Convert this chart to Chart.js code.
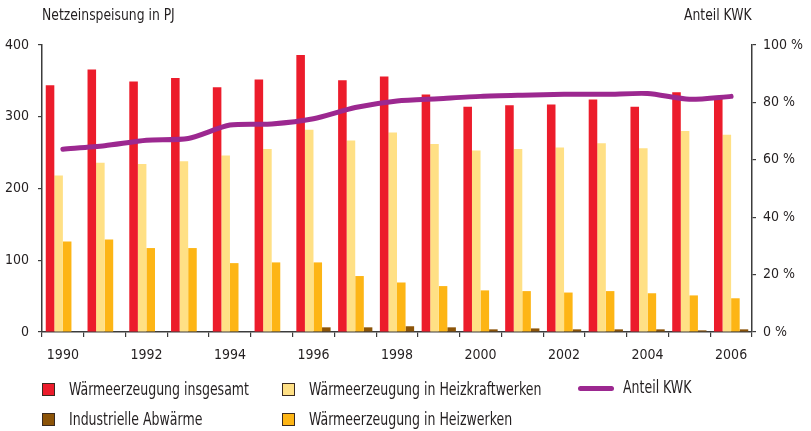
<!DOCTYPE html>
<html>
<head>
<meta charset="utf-8">
<script src="https://cdn.jsdelivr.net/npm/chart.js@4"></script>
<style>
  body { margin: 0; background: #fff; }
  #wrap { position: relative; width: 811px; height: 431px; font-family: "DejaVu Sans Condensed", "Liberation Sans Narrow", sans-serif; color: #231f20; }
  canvas { position: absolute; left: 0; top: 0; }
  .axtitle { position: absolute; top: 5px; font-size: 16px; transform: scaleX(0.86); white-space: nowrap; }
  .leg { position: absolute; font-size: 17px; line-height: 18px; white-space: nowrap; transform: scaleX(0.82); transform-origin: 0 0; }
  .sw { position: absolute; width: 11px; height: 11px; border: 1.5px solid #3a2a20; }
  .ln { position: absolute; width: 36px; height: 5px; border-radius: 3px; }
</style>
</head>
<body>
<div id="wrap">
  <canvas id="c" width="811" height="431"></canvas>
  <div class="axtitle" style="left:42px; transform-origin: 0 0">Netzeinspeisung in PJ</div>
  <div class="axtitle" style="right:59px; transform-origin: 100% 0">Anteil KWK</div>
  <div id="legend"></div>
</div>
<script>
// Data
const years = ['1990','1991','1992','1993','1994','1995','1996','1997','1998','1999','2000','2001','2002','2003','2004','2005','2006']
const insgesamt = [344, 366, 349, 354, 341, 352, 386, 351, 356, 331, 314, 316, 317, 324, 314, 334, 327]
const heizkraftwerke = [218, 236, 234, 238, 246, 255, 282, 267, 278, 262, 253, 255, 257, 263, 256, 280, 275]
const heizwerke = [126, 129, 117, 117, 96, 97, 97, 78, 69, 64, 58, 57, 55, 57, 54, 51, 47]
const abwaerme = [0, 0, 0, 0, 0, 0, 6.5, 6.5, 8, 6.5, 3.7, 5, 3.7, 3.7, 3.7, 2.3, 3.7]
const anteilKWK = [63.7, 64.9, 66.8, 67.4, 72.1, 72.5, 74.3, 78.2, 80.5, 81.3, 82.1, 82.5, 82.8, 82.8, 83.1, 81.1, 82.1]
const leftTicks = [0, 100, 200, 300, 400]
const rightTicks = [0, 20, 40, 60, 80, 100]

// Colours
const cRed = '#ec1c2b'
const cLight = '#ffe085'
const cOrange = '#fdb515'
const cBrown = '#8c5408'
const cPurple = '#9c2890'
const cAxis = '#3c3c3c'
const FONT = '"DejaVu Sans Condensed", "Liberation Sans Narrow", sans-serif'

Chart.defaults.font.family = FONT
Chart.defaults.color = '#231f20'

function barSet(label, data, color) {
	return {
		type: 'bar', label: label, data: data, backgroundColor: color,
		yAxisID: 'y', order: 1, categoryPercentage: 0.82, barPercentage: 1.0
	}
}

const datasets = [
	barSet('Wärmeerzeugung insgesamt', insgesamt, cRed),
	barSet('Wärmeerzeugung in Heizkraftwerken', heizkraftwerke, cLight),
	barSet('Wärmeerzeugung in Heizwerken', heizwerke, cOrange),
	barSet('Industrielle Abwärme', abwaerme, cBrown),
	{
		type: 'line', label: 'Anteil KWK', data: anteilKWK, yAxisID: 'y1', order: 0,
		borderColor: cPurple, borderWidth: 5, pointRadius: 0, tension: 0.25,
		borderCapStyle: 'round', borderJoinStyle: 'round', fill: false
	}
]

const tickFont = { size: 14 }

new Chart(document.getElementById('c'), {
	data: { labels: years, datasets: datasets },
	options: {
		responsive: false,
		animation: false,
		events: [],
		layout: { padding: { top: 45, left: 0, right: 0, bottom: 0 } },
		plugins: { legend: { display: false }, tooltip: { enabled: false } },
		scales: {
			x: {
				grid: { display: true, drawOnChartArea: false, drawTicks: true, tickLength: 5, color: cAxis, lineWidth: 1.2, offset: true },
				border: { display: true, color: cAxis, width: 1.5 },
				ticks: {
					autoSkip: false, maxRotation: 0, padding: 10, font: tickFont,
					callback: (v, i) => (i % 2 === 0 ? years[i] : '')
				},
				afterFit: (s) => { s.height = 99 }
			},
			y: {
				position: 'left', min: 0, max: 400,
				afterBuildTicks: (s) => { s.ticks = leftTicks.map(v => ({ value: v })) },
				grid: { display: true, drawOnChartArea: false, tickLength: 4, color: cAxis, lineWidth: 1.2 },
				border: { display: true, color: cAxis, width: 1.5 },
				ticks: { padding: 9, font: tickFont },
				afterFit: (s) => { s.width = 42 }
			},
			y1: {
				position: 'right', min: 0, max: 100,
				afterBuildTicks: (s) => { s.ticks = rightTicks.map(v => ({ value: v })) },
				grid: { display: true, drawOnChartArea: false, tickLength: 4, color: cAxis, lineWidth: 1.2 },
				border: { display: true, color: cAxis, width: 1.5 },
				ticks: { padding: 7, font: tickFont, callback: (v) => v + ' %' },
				afterFit: (s) => { s.width = 59 }
			}
		}
	}
})

// HTML legend, three columns / two rows like the original
const legendItems = [
	{ label: datasets[0].label, color: cRed, x: 42, y: 383 },
	{ label: datasets[1].label, color: cLight, x: 282, y: 383 },
	{ label: datasets[4].label, color: cPurple, x: 578, y: 381, line: true },
	{ label: datasets[3].label, color: cBrown, x: 42, y: 413 },
	{ label: datasets[2].label, color: cOrange, x: 282, y: 413 }
]
const legend = document.getElementById('legend')
for (const it of legendItems) {
	const mark = document.createElement('div')
	if (it.line) {
		mark.className = 'ln'
		mark.style.left = it.x + 'px'
		mark.style.top = (it.y + 5) + 'px'
	} else {
		mark.className = 'sw'
		mark.style.left = it.x + 'px'
		mark.style.top = it.y + 'px'
	}
	mark.style.background = it.color
	legend.appendChild(mark)
	const t = document.createElement('div')
	t.className = 'leg'
	t.textContent = it.label
	t.style.left = (it.x + (it.line ? 45 : 27)) + 'px'
	t.style.top = (it.y - 3) + 'px'
	legend.appendChild(t)
}
</script>
</body>
</html>
